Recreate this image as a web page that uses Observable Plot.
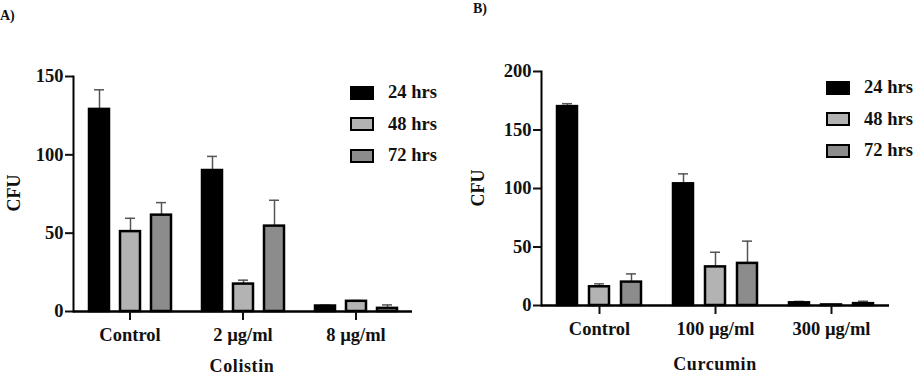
<!DOCTYPE html>
<html>
<head>
<meta charset="utf-8">
<script src="https://cdn.jsdelivr.net/npm/d3@7"></script>
<script src="https://cdn.jsdelivr.net/npm/@observablehq/plot@0.6"></script>
<style>
  html, body { margin: 0; padding: 0; background: #fff; }
  #wrap { position: relative; width: 918px; height: 376px; overflow: hidden; font-family: "Liberation Serif", "Times New Roman", serif; font-weight: bold; color: #111; }
  .panel { position: absolute; top: 0; }
  .lbl { position: absolute; white-space: nowrap; line-height: 1; }
  .legend { position: absolute; }
  .legend .row { display: flex; align-items: center; height: 31.5px; }
  .legend .sw { width: 20px; height: 10px; border: 2.5px solid #000; margin-right: 14px; }
  .legend .tx { font-size: 18.5px; }
</style>
</head>
<body>
<div id="wrap">
  <div class="panel" id="pA" style="left:0px"></div>
  <div class="panel" id="pB" style="left:460px"></div>
  <div class="lbl" style="left:0px; top:9px; font-size:14px;">A)</div>
  <div class="lbl" style="left:473px; top:2px; font-size:14px;">B)</div>
  <div class="lbl" style="left:14px; top:193px; font-size:18px; transform:translate(-50%,-50%) rotate(-90deg);">CFU</div>
  <div class="lbl" style="left:478px; top:188px; font-size:18px; transform:translate(-50%,-50%) rotate(-90deg);">CFU</div>
  <div class="lbl" id="tA" style="left:242px; top:357px; font-size:18px; transform:translateX(-50%); letter-spacing:0.6px;"></div>
  <div class="lbl" id="tB" style="left:715px; top:355px; font-size:18px; transform:translateX(-50%); letter-spacing:0.6px;"></div>
  <div class="legend" id="lA" style="left:350px; top:77px;"></div>
  <div class="legend" id="lB" style="left:826px; top:72px;"></div>
</div>
<script>
// ---- data ----
const series = ["24 hrs", "48 hrs", "72 hrs"];
const seriesFill = ["#000000", "#b3b3b3", "#8c8c8c"];

const catsA = ["Control", "2 µg/ml", "8 µg/ml"];
const titleA = "Colistin";
const a24 = [129, 90, 3.5];
const a24err = [12.5, 9, 0.5];
const a48 = [51, 17.5, 6.5];
const a48err = [8.5, 2.5, 0.5];
const a72 = [61.5, 54.5, 2];
const a72err = [8, 16.5, 2.2];
const ticksA = [0, 50, 100, 150];

const catsB = ["Control", "100 µg/ml", "300 µg/ml"];
const titleB = "Curcumin";
const b24 = [170, 104, 2.3];
const b24err = [2.5, 8.5, 1.2];
const b48 = [16, 33, 0.5];
const b48err = [2.5, 12.5, 0.3];
const b72 = [20, 36, 1.6];
const b72err = [7, 19, 2];
const ticksB = [0, 50, 100, 150, 200];

function rows(cats, vals, errs) {
  const out = [];
  cats.forEach((c, i) => {
    series.forEach((s, j) => {
      out.push({cat: c, series: s, value: vals[j][i], err: errs[j][i]});
    });
  });
  return out;
}

function chart(data, cats, ticks, opts) {
  return Plot.plot({
    width: opts.width,
    height: 376,
    marginLeft: opts.ml,
    marginRight: opts.mr,
    marginTop: opts.mt,
    marginBottom: opts.mb,
    style: {fontFamily: '"Liberation Serif", "Times New Roman", serif', fontSize: "18.5px", fontWeight: "bold", color: "#111", background: "transparent", overflow: "visible"},
    fx: {domain: cats, padding: 0, label: null},
    x: {domain: series, paddingInner: 0.36, paddingOuter: 0.48, axis: null},
    y: {domain: [ticks[0], ticks[ticks.length - 1]], label: null},
    color: {domain: series, range: seriesFill},
    marks: [
      Plot.ruleX(data, {fx: "cat", x: "series", y1: "value", y2: d => d.value + d.err, stroke: "#555", strokeWidth: 1.5}),
      Plot.tickY(data, {fx: "cat", x: "series", y: d => d.value + d.err, stroke: "#555", strokeWidth: 1.5, insetLeft: 5, insetRight: 5}),
      Plot.barY(data, {fx: "cat", x: "series", y: "value", fill: "series", stroke: "#000", strokeWidth: 2.5}),
      Plot.ruleY([0], {stroke: "#000", strokeWidth: 2.5}),
      Plot.axisY({ticks: ticks, tickSize: 8, tickPadding: 2, strokeWidth: 2, label: null}),
      Plot.axisFx({anchor: "bottom", tickSize: 9, tickPadding: 7, strokeWidth: 2, label: null}),
      Plot.frame({anchor: "left", facet: "super", stroke: "#000", strokeWidth: 2})
    ]
  });
}

const dataA = rows(catsA, [a24, a48, a72], [a24err, a48err, a72err]);
const dataB = rows(catsB, [b24, b48, b72], [b24err, b48err, b72err]);

document.getElementById("pA").appendChild(chart(dataA, catsA, ticksA, {width: 460, ml: 72, mr: 48, mt: 76, mb: 65}));
document.getElementById("pB").appendChild(chart(dataB, catsB, ticksB, {width: 458, ml: 80, mr: 28, mt: 71, mb: 71}));

document.getElementById("tA").textContent = titleA;
document.getElementById("tB").textContent = titleB;

function legend(el) {
  series.forEach((s, i) => {
    const row = document.createElement("div");
    row.className = "row";
    const sw = document.createElement("div");
    sw.className = "sw";
    sw.style.background = seriesFill[i];
    const tx = document.createElement("div");
    tx.className = "tx";
    tx.textContent = s;
    row.appendChild(sw); row.appendChild(tx);
    el.appendChild(row);
  });
}
legend(document.getElementById("lA"));
legend(document.getElementById("lB"));
</script>
</body>
</html>
